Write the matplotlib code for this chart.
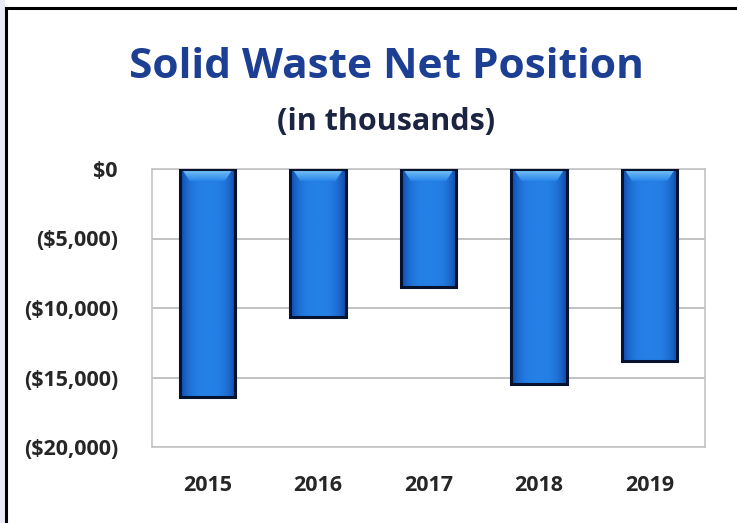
import matplotlib
matplotlib.use("Agg")
import matplotlib.pyplot as plt
import numpy as np
from matplotlib.lines import Line2D
from matplotlib.patches import Rectangle, Polygon
from matplotlib.colors import LinearSegmentedColormap

years = ["2015", "2016", "2017", "2018", "2019"]
net_position = [-16400, -10650, -8500, -15450, -13800]
yticks = [0, -5000, -10000, -15000, -20000]
ytick_labels = ["$0", "($5,000)", "($10,000)", "($15,000)", "($20,000)"]

W, H = 737, 523
fig = plt.figure(figsize=(W / 100, H / 100), dpi=100)
fig.patch.set_facecolor("white")

# frame strip and border (only top and left visible, as in the crop)
fig.patches.append(Rectangle((0, 0), 5 / W, 1, transform=fig.transFigure,
                             facecolor="#e8edf3", edgecolor="none", zorder=0))
fig.add_artist(Line2D([6 / W, 6 / W], [0, 1 - 8 / H], transform=fig.transFigure,
                      color="black", lw=2.2))
fig.add_artist(Line2D([6 / W, 1], [1 - 8 / H, 1 - 8 / H], transform=fig.transFigure,
                      color="black", lw=2.2))

ax = fig.add_axes([152 / W, 1 - 447 / H, (705 - 152) / W, (447 - 169) / H])
x = np.arange(len(years))
bars = ax.bar(x, net_position, width=0.5, color="#1f6fd6",
              edgecolor="#06122e", linewidth=2.2, zorder=3)

# gradient shading clipped to each bar
grad = np.linspace(0, 1, 64)
shade = 1 - (np.abs(grad - 0.5) * 2) ** 3
img = np.tile(shade, (64, 1))
cmap = LinearSegmentedColormap.from_list("b", ["#1048a8", "#2580e6"])
hl_cmap = LinearSegmentedColormap.from_list("h", ["#2a86ea", "#7cc8f7"])
for b in bars:
    x0, y0 = b.get_x(), b.get_y()
    w, h = b.get_width(), b.get_height()
    im = ax.imshow(img, extent=[x0, x0 + w, y0 + h, y0], cmap=cmap,
                   aspect="auto", zorder=3.5, interpolation="bilinear")
    im.set_clip_path(b)
    # light highlight at the zero end (trapezoid)
    hl = Polygon([(x0 + w * 0.04, 0), (x0 + w * 0.96, 0),
                  (x0 + w * 0.82, -850), (x0 + w * 0.18, -850)],
                 closed=True, facecolor="none", edgecolor="none")
    ax.add_patch(hl)
    vimg = np.tile(np.linspace(0, 1, 32)[:, None], (1, 8))
    im2 = ax.imshow(vimg, extent=[x0, x0 + w, -850, 0], cmap=hl_cmap,
                    aspect="auto", zorder=3.6, interpolation="bilinear", origin="lower")
    im2.set_clip_path(hl)
    b.set_facecolor("none")
    b.set_zorder(4)

ax.set_xlim(-0.5, len(years) - 0.5)
ax.set_ylim(-20000, 0)
ax.set_yticks(yticks)
ax.set_yticklabels(ytick_labels)
ax.set_xticks(x)
ax.set_xticklabels(years)
ax.yaxis.grid(True, color="#b8b8b8", lw=1.2, zorder=0)
ax.set_axisbelow(True)
for s in ax.spines.values():
    s.set_color("#c4c4c4")
    s.set_linewidth(1.2)
ax.tick_params(length=0)
ax.tick_params(axis="y", pad=24.5)
ax.tick_params(axis="x", pad=20)
for lbl in ax.get_xticklabels() + ax.get_yticklabels():
    lbl.set_fontfamily("Open Sans")
    lbl.set_fontweight("bold")
    lbl.set_fontsize(15.5)
    lbl.set_color("#262626")

fig.text(386 / W, 1 - 67 / H, "Solid Waste Net Position", ha="center", va="center",
         fontsize=30.5, fontweight="bold", color="#1c3f94", family="Open Sans")
fig.text(386 / W, 1 - 122 / H, "(in thousands)", ha="center", va="center",
         fontsize=22, fontweight="bold", color="#1b2440", family="Open Sans")

fig.savefig("out.png", dpi=100)
